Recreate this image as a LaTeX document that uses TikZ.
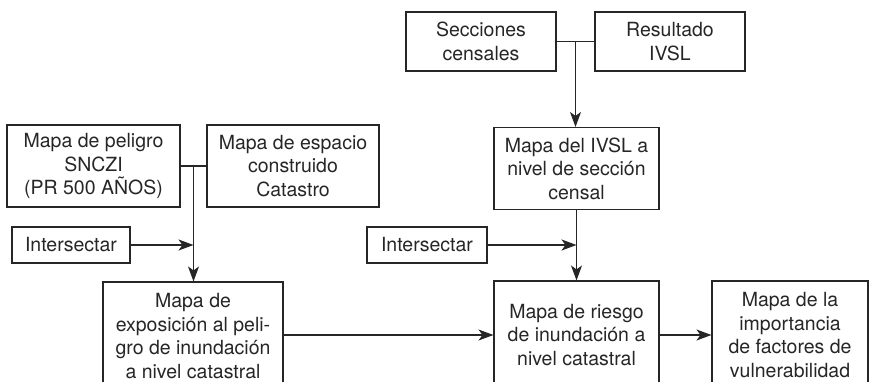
\documentclass[tikz,border=0pt]{standalone}
\usepackage{fontspec}
\setmainfont{TeX Gyre Heros}
\usetikzlibrary{calc, arrows.meta}
\tikzset{>={Stealth[length=15pt, width=11pt, inset=4pt]}}
\tikzset{box/.style={draw, line width=1.1pt, inner sep=0pt, align=center,
  font=\fontsize{19.5}{23.5}\selectfont}}

\begin{document}
\begin{tikzpicture}[x=1pt, y=-1pt, line width=1.1pt, color=black!85]
\useasboundingbox (0, 0) rectangle (869, 382); % same frame as the figure
\clip (0, 0) rectangle (869, 382);

% left column
\node[box, minimum width=173pt, minimum height=82pt] (peligro) at (93.5, 166)
{Mapa de peligro\\SNCZI\\(PR 500 AÑOS)};
\node[box, minimum width=172pt, minimum height=82pt] (espacio) at (293, 166)
{Mapa de espacio\\construido\\Catastro};
\node[box, minimum width=118pt, minimum height=36pt] (intA) at (71, 245) {Intersectar};
\node[box, minimum width=180pt, minimum height=108pt] (expo) at (193, 336)
{Mapa de\\exposición al peli-\\gro de inundación\\a nivel catastral};

% right column
\node[box, minimum width=150pt, minimum height=59pt] (secciones) at (481, 41.5)
{Secciones\\censales};
\node[box, minimum width=150pt, minimum height=59pt] (resultado) at (670, 41.5)
{Resultado\\IVSL};
\node[box, minimum width=165pt, minimum height=82pt] (ivsl) at (576.5, 168.5)
{Mapa del IVSL a\\nivel de sección\\censal};
\node[box, minimum width=120pt, minimum height=36pt] (intB) at (427, 245) {Intersectar};
\node[box, minimum width=165pt, minimum height=108pt] (riesgo) at (576.5, 335)
{Mapa de riesgo\\de inundación a\\nivel catastral};
\node[box, minimum width=156pt, minimum height=108pt] (importancia) at (790, 335)
{Mapa de la\\importancia\\de factores de\\vulnerabilidad};

\coordinate (jA) at ($(peligro.east)!0.5!(espacio.west)$);
\coordinate (jB) at ($(secciones.east)!0.5!(resultado.west)$);

\draw (peligro) -- (espacio);
\draw[->] (jA) -- (jA |- expo.north);
\draw[->] (intA) -- (intA -| jA);

\draw (secciones) -- (resultado);
\draw[->] (jB) -- (jB |- ivsl.north);
\draw[->] (ivsl) -- (riesgo);
\draw[->] (intB) -- (intB -| ivsl);

\draw[->] (expo.east |- riesgo) -- (riesgo);
\draw[->] (riesgo) -- (importancia);

\end{tikzpicture}
\end{document}
